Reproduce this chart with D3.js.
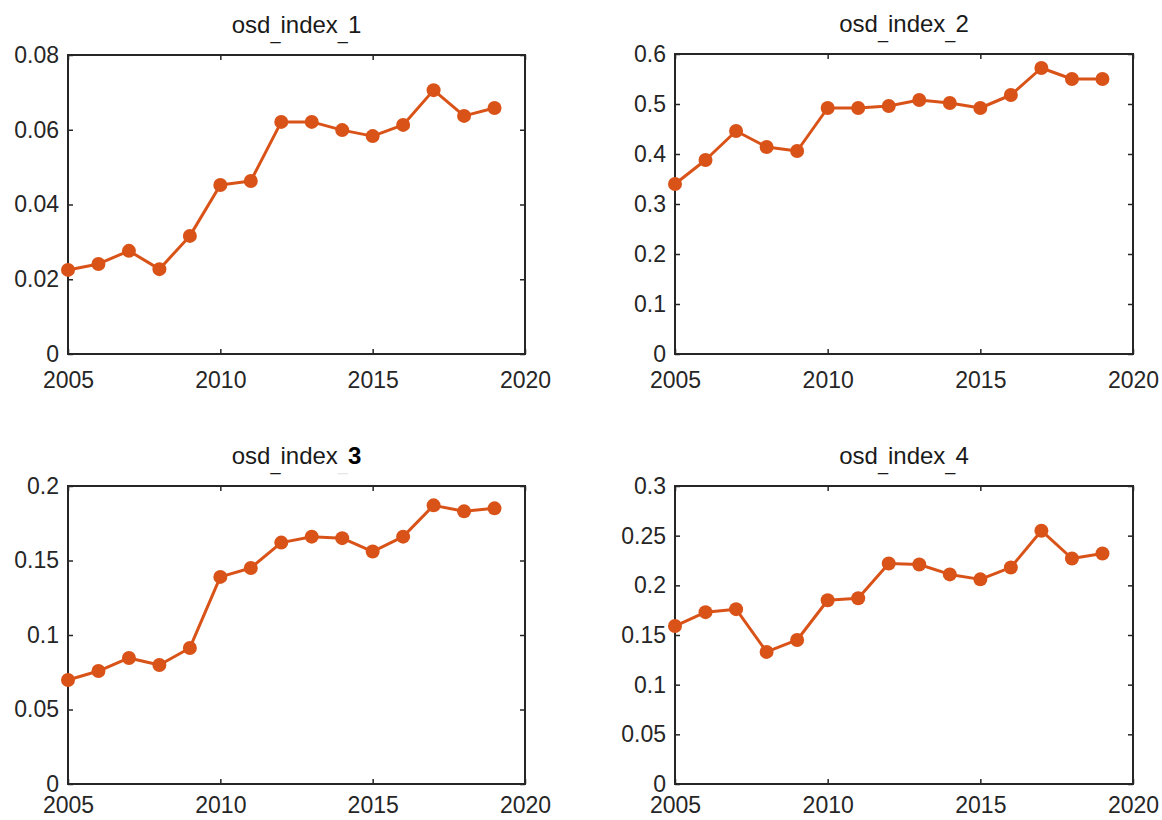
<!DOCTYPE html>
<html>
<head>
<meta charset="utf-8">
<script src="https://cdn.jsdelivr.net/npm/d3@7"></script>
<style>
  html, body { margin: 0; padding: 0; background: #fff; }
  svg { display: block; }
  text { font-family: "Liberation Sans", Arial, sans-serif; }
</style>
</head>
<body>
<svg id="chart" width="1162" height="820"></svg>
<script>
// Yearly series, 2005–2019
const years = [2005, 2006, 2007, 2008, 2009, 2010, 2011, 2012, 2013, 2014, 2015, 2016, 2017, 2018, 2019];

const osdIndex1 = [0.0225, 0.0241, 0.0276, 0.0227, 0.0316, 0.0452, 0.0463, 0.0621, 0.0621, 0.0599, 0.0583, 0.0613, 0.0706, 0.0637, 0.0658];
const osdIndex2 = [0.340, 0.388, 0.446, 0.414, 0.406, 0.492, 0.492, 0.496, 0.508, 0.502, 0.492, 0.518, 0.572, 0.550, 0.550];
const osdIndex3 = [0.0698, 0.0758, 0.0846, 0.0799, 0.0913, 0.139, 0.145, 0.162, 0.166, 0.165, 0.156, 0.166, 0.187, 0.183, 0.185];
const osdIndex4 = [0.159, 0.173, 0.176, 0.133, 0.145, 0.185, 0.187, 0.222, 0.221, 0.211, 0.206, 0.218, 0.255, 0.227, 0.232];

const xTicks = [2005, 2010, 2015, 2020];
const yTicks1 = [0, 0.02, 0.04, 0.06, 0.08];
const yTicks2 = [0, 0.1, 0.2, 0.3, 0.4, 0.5, 0.6];
const yTicks3 = [0, 0.05, 0.1, 0.15, 0.2];
const yTicks4 = [0, 0.05, 0.1, 0.15, 0.2, 0.25, 0.3];

// title pieces: name parts joined by a lowered underscore
const titleParts1 = ["osd", "index", "1"];
const titleParts2 = ["osd", "index", "2"];
const titleParts3 = ["osd", "index", "3"];
const titleParts4 = ["osd", "index", "4"];

// Panel frames (layout only); xPad = gap between box and year labels
const frames = [
  { x0: 68,  x1: 525,  y0: 55, y1: 354, xPad: 18 },
  { x0: 675, x1: 1133, y0: 54, y1: 354, xPad: 18 },
  { x0: 68,  x1: 525,  y0: 486, y1: 784, xPad: 13 },
  { x0: 675, x1: 1133, y0: 486, y1: 784, xPad: 13 }
];

const series = [osdIndex1, osdIndex2, osdIndex3, osdIndex4];
const yTickSets = [yTicks1, yTicks2, yTicks3, yTicks4];
const titleSets = [titleParts1, titleParts2, titleParts3, titleParts4];

const lineColor = "#D95319";
const axisColor = "#262626";
const textColor = "#262626";
const fmt = d3.format("~g");

const svg = d3.select("#chart");

series.forEach((vals, i) => {
  const f = frames[i];
  const yT = yTickSets[i];
  const x = d3.scaleLinear().domain([xTicks[0], xTicks[xTicks.length - 1]]).range([f.x0, f.x1]);
  const y = d3.scaleLinear().domain([yT[0], yT[yT.length - 1]]).range([f.y1, f.y0]);

  const g = svg.append("g");

  // axes: bottom/left carry labels, top/right mirror the inward ticks
  const tickLen = 5;
  const axB = g.append("g").attr("transform", `translate(0,${f.y1})`)
    .call(d3.axisBottom(x).tickValues(xTicks).tickSize(-tickLen).tickPadding(f.xPad).tickFormat(d3.format("d")));
  const axT = g.append("g").attr("transform", `translate(0,${f.y0})`)
    .call(d3.axisTop(x).tickValues(xTicks).tickSize(-tickLen).tickFormat(""));
  const axL = g.append("g").attr("transform", `translate(${f.x0},0)`)
    .call(d3.axisLeft(y).tickValues(yT).tickSize(-tickLen).tickPadding(9).tickFormat(fmt));
  const axR = g.append("g").attr("transform", `translate(${f.x1},0)`)
    .call(d3.axisRight(y).tickValues(yT).tickSize(-tickLen).tickFormat(""));

  [axB, axT, axL, axR].forEach(a => {
    a.select(".domain").remove();
    a.selectAll(".tick line").attr("stroke", axisColor).attr("stroke-width", 1.5);
    a.selectAll(".tick text").attr("fill", textColor).style("font-size", "23px");
  });

  // box
  g.append("rect")
    .attr("x", f.x0).attr("y", f.y0)
    .attr("width", f.x1 - f.x0).attr("height", f.y1 - f.y0)
    .attr("fill", "none").attr("stroke", axisColor).attr("stroke-width", 2);

  // series line + markers
  const line = d3.line().x((d, j) => x(years[j])).y(d => y(d));
  g.append("path").datum(vals)
    .attr("d", line)
    .attr("fill", "none").attr("stroke", lineColor)
    .attr("stroke-width", 3).attr("stroke-linejoin", "round");
  g.selectAll("circle.pt").data(vals).enter().append("circle")
    .attr("class", "pt")
    .attr("cx", (d, j) => x(years[j])).attr("cy", d => y(d))
    .attr("r", 7).attr("fill", lineColor);

  // title
  const parts = titleSets[i];
  const t = g.append("text")
    .attr("x", (f.x0 + f.x1) / 2).attr("y", f.y0 - 22)
    .attr("text-anchor", "middle").attr("fill", "#1a1a1a")
    .style("font-size", "24px");
  t.append("tspan").text(parts[0]);
  t.append("tspan").attr("dy", 6).style("font-size", "18px").text("_");
  t.append("tspan").attr("dy", -6).text(parts[1]);
  if (i === 2) {
    t.append("tspan").attr("dy", 6).style("font-size", "18px").attr("fill", "#e6e6e6").text("_");
    t.append("tspan").attr("dy", -6).attr("font-weight", "bold").attr("fill", "#000").text(parts[2]);
  } else {
    t.append("tspan").attr("dy", 6).style("font-size", "18px").text("_");
    t.append("tspan").attr("dy", -6).text(parts[2]);
  }
});
</script>
</body>
</html>
